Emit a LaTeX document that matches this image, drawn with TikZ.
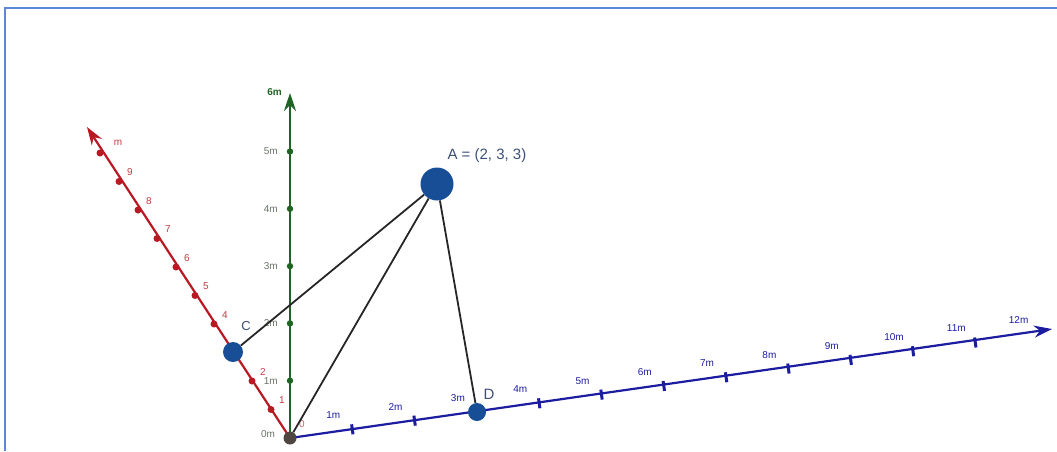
\documentclass[tikz,border=0pt]{standalone}
\usepackage{fontspec}
\setmainfont{Liberation Sans}
\usetikzlibrary{arrows.meta,calc}
\definecolor{axred}{RGB}{185,25,35}
\definecolor{axgreen}{RGB}{30,100,35}
\definecolor{axblue}{RGB}{28,28,160}
\definecolor{ptblue}{RGB}{24,78,150}
\definecolor{framec}{RGB}{90,135,215}
\definecolor{lblgray}{RGB}{105,115,105}
\definecolor{lblA}{RGB}{60,80,120}
\definecolor{ocol}{RGB}{80,70,65}
\tikzset{
  axis/.style={line width=2.2pt,-{Stealth[length=18pt,width=12pt]}},
  seg/.style={line width=1.8pt,black!85},
  pt/.style={circle,fill=ptblue,inner sep=0pt},
  tlab/.style={font=\fontsize{10}{11}\selectfont,inner sep=0pt},
  framestyle/.style={draw=framec,line width=1.5pt}
}
\begin{document}
\begin{tikzpicture}[x=1pt,y=-1pt]
\useasboundingbox (0,0) rectangle (1057,451);
\draw[framestyle] (5,451) -- (5,8) -- (1057,8);
\coordinate (O) at (290,438);
\coordinate (xend) at (87,127);
\coordinate (zend) at (290,93);
\coordinate (yend) at (1052,329);
% axes
\draw[axis,axred] (O) -- (xend);
\draw[axis,axgreen] (O) -- (zend);
\draw[axis,axblue] (O) -- (yend);
% red ticks and labels
\foreach \k in {1,...,10}{
  \fill[axred] ($(O)+\k*(-19,-28.5)$) circle (3.5);
}
\foreach \k/\t in {1/1,2/2,4/4,5/5,6/6,7/7,8/8,9/9}{
  \node[tlab,text=axred!85] at ($(O)+\k*(-19,-28.5)+(11,-9)$) {\t};
}
\node[tlab,text=axred!85] at ($(O)+10*(-19,-28.5)+(18,-10)$) {m};
% green ticks and labels
\foreach \k in {1,...,5}{
  \fill[axgreen] ($(O)+(0,-57.3*\k)$) circle (3.2);
  \node[tlab,text=lblgray,anchor=east] at ($(O)+(-12,-57.3*\k)$) {\k m};
}
\node[tlab,text=axgreen,anchor=east,font=\fontsize{10}{11}\selectfont\bfseries] at (282,92) {6m};
% blue ticks and labels
\foreach \k in {1,...,11}{
  \draw[axblue,line width=3pt] ($(O)+\k*(62.3,-8.68)+(-0.7,-5)$) -- ($(O)+\k*(62.3,-8.68)+(0.7,5)$);
}
\foreach \k in {1,...,12}{
  \node[tlab,text=axblue] at ($(O)+\k*(62.3,-8.68)+(-19,-14)$) {\k m};
}
% origin labels
\node[tlab,text=lblgray] at (268,434) {0m};
\node[tlab,text=axred!70] at (302,424) {0};
% points
\node[pt,minimum size=33pt] (A) at (437,184) {};
\node[pt,minimum size=20pt] (C) at (233,352) {};
\node[pt,minimum size=18pt] (D) at (477,412) {};
\node[circle,fill=ocol,inner sep=0pt,minimum size=13pt] (Op) at (O) {};
% segments
\draw[seg] (A) -- (C);
\draw[seg] (A) -- (Op);
\draw[seg] (A) -- (D);
% point labels
\node[text=lblA,font=\fontsize{15}{17}\selectfont,anchor=west] (Alab) at (444,156) {A = (2, 3, 3)};
\node[text=lblA,font=\fontsize{15}{17}\selectfont] (Dlab) at (489,394) {D};
\node[text=lblA,font=\fontsize{13}{15}\selectfont] (Clab) at (246,326) {C};
\end{tikzpicture}
\end{document}
